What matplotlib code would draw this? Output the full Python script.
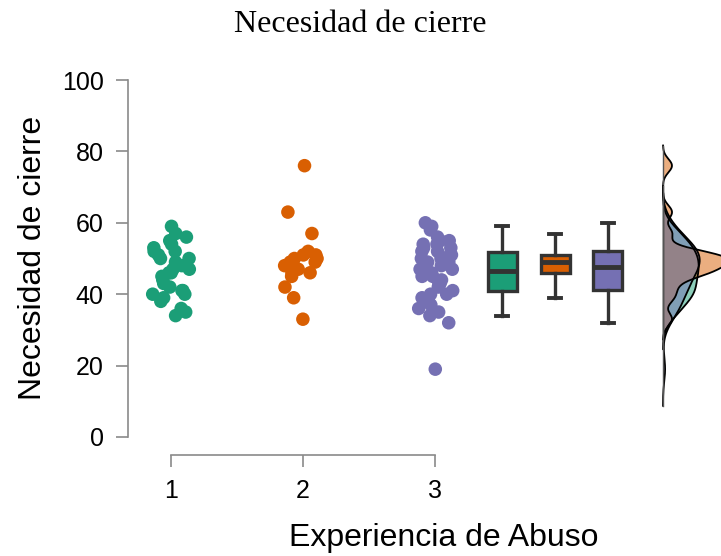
import numpy as np
import matplotlib
matplotlib.use("Agg")
import matplotlib.pyplot as plt

# ---------------- data ----------------
categories = ["1", "2", "3"]
group1 = [34, 35, 36, 38, 39, 40, 40, 41, 41, 42, 43, 44, 45, 46, 46, 47, 47, 48,
          49, 50, 50, 51, 52, 52, 53, 54, 55, 56, 57, 59]
group2 = [33, 39, 42, 45, 46, 46, 47, 48, 49, 49, 50, 50, 51, 51, 52, 57, 63, 76]
group3 = [19, 32, 34, 35, 36, 37, 38, 39, 40, 40, 41, 42, 43, 43, 44, 45, 45, 46,
          46, 47, 47, 48, 48, 49, 49, 50, 50, 50, 51, 51, 52, 52, 53, 53, 54, 54,
          55, 55, 56, 58, 59, 60]
groups = [group1, group2, group3]
colors = ["#1b9e77", "#d95f02", "#7570b3"]
yticks = [0, 20, 40, 60, 80, 100]

title = "Necesidad de cierre"
ylabel = "Necesidad de cierre"
xlabel = "Experiencia de Abuso"

# ---------------- layout ----------------
W, H = 721, 556
fig = plt.figure(figsize=(W / 100, H / 100), dpi=100)
ax = fig.add_axes([128 / W, 101 / H, 593 / W, 375 / H])
ax.set_xlim(1 + (128 - 171) / 132, 1 + (721 - 171) / 132)
ax.set_ylim(-18 / 3.57, 100)

sans = "Liberation Sans"
serif = "Liberation Serif"

# jittered points
rng = np.random.default_rng(7)
for i, (g, c) in enumerate(zip(groups, colors)):
    x = (i + 1) + rng.uniform(-0.14, 0.14, len(g))
    ax.scatter(x, g, s=95, color=c, edgecolors="none", zorder=3, clip_on=False)

# boxplots
box_pos = [3.51, 3.91, 4.31]
dark = "#333333"
bp = ax.boxplot(groups, positions=box_pos, widths=0.22, patch_artist=True,
                showfliers=False, whis=1.5, capwidths=0.09, manage_ticks=False,
                boxprops=dict(edgecolor=dark, linewidth=2.4),
                medianprops=dict(color=dark, linewidth=3.5),
                whiskerprops=dict(color=dark, linewidth=2.4),
                capprops=dict(color=dark, linewidth=2.8))
for patch, c in zip(bp["boxes"], colors):
    patch.set_facecolor(c)

# densities (Gaussian KDE, bw.nrd0, cut = 3)
def kde(vals):
    v = np.asarray(vals, float)
    n = len(v)
    sd = v.std(ddof=1)
    iqr = np.subtract(*np.percentile(v, [75, 25]))
    bw = 0.9 * min(sd, iqr / 1.34) * n ** (-0.2)
    grid = np.linspace(v.min() - 3 * bw, v.max() + 3 * bw, 512)
    d = np.exp(-0.5 * ((grid[:, None] - v[None, :]) / bw) ** 2).sum(1)
    d /= n * bw * np.sqrt(2 * np.pi)
    return grid, d

base = 4.727
scale = 5.8
for g, c in zip(groups, colors):
    y, d = kde(g)
    xs = np.concatenate([[base], base + scale * d, [base]])
    ys = np.concatenate([[y[0]], y, [y[-1]]])
    ax.fill(xs, ys, facecolor=c, alpha=0.5, edgecolor="none", zorder=4)
    ax.plot(base + scale * d, y, color="black", lw=1.3, zorder=5)
    ax.plot([base, base], [y[0], y[-1]], color="#555555", lw=1.0, zorder=5)

# axes styling
for s in ["top", "right"]:
    ax.spines[s].set_visible(False)
spine_col = "#8a8a8a"
ax.spines["left"].set_bounds(0, 100)
ax.spines["bottom"].set_bounds(1, 3)
for s in ["left", "bottom"]:
    ax.spines[s].set_color(spine_col)
    ax.spines[s].set_linewidth(1.2)
ax.set_yticks(yticks)
ax.set_yticklabels([str(t) for t in yticks])
ax.set_xticks([1, 2, 3])
ax.set_xticklabels(categories)
ax.tick_params(axis="both", length=8.5, width=1.2, color=spine_col,
               labelsize=18, labelcolor="black")
ax.tick_params(axis="y", pad=9)
ax.tick_params(axis="x", pad=9)
for lab in ax.get_xticklabels() + ax.get_yticklabels():
    lab.set_family(sans)

fig.text(0.5, 1 - 32 / H, title, ha="center", va="baseline",
         fontsize=23, family=serif)
fig.text(444 / W, 1 - 546 / H, xlabel, ha="center", va="baseline",
         fontsize=23, family=sans)
fig.text(33 / W, 1 - 258 / H, ylabel, ha="center", va="center",
         rotation=90, fontsize=23, family=sans)

fig.savefig("out.png", dpi=100)
